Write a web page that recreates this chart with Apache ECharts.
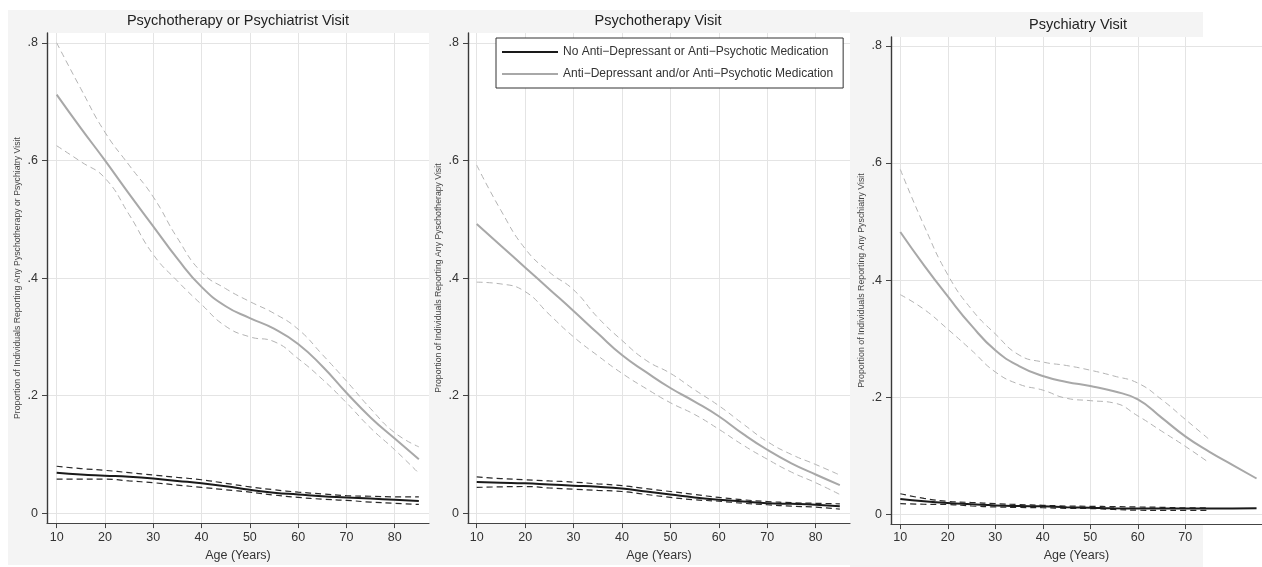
<!DOCTYPE html>
<html>
<head>
<meta charset="utf-8">
<style>html,body{margin:0;padding:0;background:#fff;}#chart{width:1262px;height:567px;}</style>
<script src="https://cdn.jsdelivr.net/npm/echarts@6/dist/echarts.min.js"></script>
</head>
<body>
<div id="chart"></div>
<script>
// ---------------- data ----------------
const ages = [10, 15, 20, 25, 30, 35, 40, 45, 50, 55, 60, 65, 70, 75, 80, 85];
const xTicksFull = [10, 20, 30, 40, 50, 60, 70, 80];
const xTicksShort = [10, 20, 30, 40, 50, 60, 70];
const yTicks = [0, 0.2, 0.4, 0.6, 0.8];

const panelTitles = ['Psychotherapy or Psychiatrist Visit', 'Psychotherapy Visit', 'Psychiatry Visit'];
const yTitles = [
  'Proportion of Individuals Reporting Any Pyschotherapy or Psychiatry Visit',
  'Proportion of Individuals Reporting Any Pyschotherapy Visit',
  'Proportion of Individuals Reporting Any Pyschiatry Visit'
];
const xTitle = 'Age (Years)';
const legendNames = ['No Anti\u2212Depressant or Anti\u2212Psychotic Medication',
                     'Anti\u2212Depressant and/or Anti\u2212Psychotic Medication'];

// Panel 1: psychotherapy or psychiatrist visit
const p1MedMean  = [.712,.655,.600,.543,.488,.433,.385,.352,.332,.314,.288,.250,.205,.163,.127,.092];
const p1MedHi    = [.800,.722,.648,.592,.538,.468,.410,.382,.360,.340,.313,.270,.225,.178,.137,.113];
const p1MedLo    = [.625,.598,.570,.508,.440,.395,.355,.318,.300,.292,.263,.228,.188,.145,.108,.068];
const p1NoMean   = [.069,.066,.064,.062,.059,.055,.051,.046,.040,.035,.032,.029,.027,.025,.023,.021];
const p1NoHi     = [.080,.076,.073,.069,.065,.061,.057,.051,.045,.040,.036,.033,.030,.029,.028,.028];
const p1NoLo     = [.058,.058,.058,.055,.052,.048,.044,.040,.036,.031,.027,.024,.022,.019,.017,.015];

// Panel 2: psychotherapy visit
const p2MedMean  = [.492,.455,.418,.381,.344,.306,.269,.240,.213,.190,.165,.135,.108,.085,.066,.048];
const p2MedHi    = [.592,.515,.450,.410,.380,.333,.294,.260,.238,.210,.183,.152,.122,.100,.083,.065];
const p2MedLo    = [.393,.390,.377,.338,.300,.268,.238,.212,.188,.168,.143,.116,.092,.070,.052,.032];
const p2NoMean   = [.053,.052,.051,.049,.047,.045,.042,.037,.032,.027,.023,.020,.017,.016,.0145,.012];
const p2NoHi     = [.062,.059,.057,.055,.053,.050,.047,.042,.037,.032,.027,.023,.020,.018,.017,.016];
const p2NoLo     = [.044,.045,.0455,.043,.041,.039,.037,.032,.027,.023,.0205,.017,.0145,.012,.0105,.007];

// Panel 3: psychiatry visit (confidence bands stop at 75)
const p3MedMean  = [.482,.425,.372,.322,.280,.253,.236,.226,.219,.210,.196,.165,.133,.107,.084,.061];
const p3MedHi    = [.589,.493,.409,.350,.308,.272,.260,.254,.246,.236,.224,.196,.162,.128,null,null];
const p3MedLo    = [.375,.350,.316,.280,.243,.222,.212,.198,.194,.190,.168,.142,.116,.088,null,null];
const p3NoMean   = [.026,.022,.019,.017,.015,.014,.0135,.012,.011,.010,.0098,.0096,.0096,.0097,.0098,.0100];
const p3NoHi     = [.035,.027,.022,.020,.018,.0165,.0152,.014,.0135,.013,.0124,.0118,.011,.011,null,null];
const p3NoLo     = [.018,.017,.0165,.014,.0124,.0115,.011,.010,.0096,.008,.0068,.0065,.0065,.0065,null,null];

// ---------------- styling / layout ----------------
const FONT = "'Liberation Sans', Arial, Helvetica, sans-serif";
const BLACK = '#1a1a1a', GREY = '#a8a8a8', GREY_CI = '#b4b4b4', BG = '#f4f4f4';

function pairs(vals) {
  return ages.map((a, i) => [a, vals[i]]).filter(p => p[1] !== null && p[1] !== undefined);
}
function mkLine(name, idx, vals, color, width, dashed, z) {
  return {
    name: name, type: 'line', xAxisIndex: idx, yAxisIndex: idx,
    data: pairs(vals), showSymbol: false, symbol: 'none',
    smooth: 0.5, silent: true, z: z,
    lineStyle: { color: color, width: width, type: dashed ? [6, 4] : 'solid' },
    itemStyle: { color: color }
  };
}

const grids = [
  { left: 47,  top: 33, width: 382, height: 500 },
  { left: 468, top: 33, width: 382, height: 500 },
  { left: 891, top: 37, width: 371, height: 492 }
];
const xRanges = [[8.0, 87.1], [8.2, 87.1], [8.04, 86.15]];
const yRanges = [[-0.0167, 0.8167], [-0.0167, 0.8167], [-0.0169, 0.8152]];
const yNameFont = [8.7, 8.7, 8.8];
const xLabelMargin = [8, 8, 7];
const xNameGap = [21, 21, 20];

function yFmt(v) { return v === 0 ? '0' : String(+v.toFixed(1)).replace(/^0/, ''); }

const xAxes = grids.map((g, i) => ({
  type: 'value', gridIndex: i, min: xRanges[i][0], max: xRanges[i][1],
  name: xTitle, nameLocation: 'middle', nameGap: xNameGap[i],
  nameTextStyle: { fontFamily: FONT, fontSize: 12.5, color: '#333' },
  axisLine: { show: true, onZero: false, lineStyle: { color: '#444', width: 1.2 } },
  axisTick: { show: true, length: 5, customValues: i === 2 ? xTicksShort : xTicksFull, lineStyle: { color: '#444' } },
  axisLabel: { customValues: i === 2 ? xTicksShort : xTicksFull, margin: xLabelMargin[i], fontFamily: FONT, fontSize: 12.5, color: '#333' },
  splitLine: { show: true, lineStyle: { color: '#e4e4e4', width: 1 } }
}));
const yAxes = grids.map((g, i) => ({
  type: 'value', gridIndex: i, min: yRanges[i][0], max: yRanges[i][1],
  name: yTitles[i], nameLocation: 'middle', nameRotate: 90, nameGap: 25,
  nameTextStyle: { fontFamily: FONT, fontSize: yNameFont[i], color: '#444' },
  axisLine: { show: true, lineStyle: { color: '#3a3a3a', width: 1.4 } },
  axisTick: { show: true, length: 5, customValues: yTicks, lineStyle: { color: '#444' } },
  axisLabel: { customValues: yTicks, margin: 9, fontFamily: FONT, fontSize: 12.5, color: '#333', formatter: yFmt },
  splitLine: { show: true, lineStyle: { color: '#e4e4e4', width: 1 } }
}));

const series = [];
const panels = [
  [p1NoMean, p1NoHi, p1NoLo, p1MedMean, p1MedHi, p1MedLo],
  [p2NoMean, p2NoHi, p2NoLo, p2MedMean, p2MedHi, p2MedLo],
  [p3NoMean, p3NoHi, p3NoLo, p3MedMean, p3MedHi, p3MedLo]
];
panels.forEach((p, i) => {
  series.push(mkLine(legendNames[1] + ' (upper 95% CI)', i, p[4], GREY_CI, 1, true, 3));
  series.push(mkLine(legendNames[1] + ' (lower 95% CI)', i, p[5], GREY_CI, 1, true, 3));
  series.push(mkLine(legendNames[1], i, p[3], GREY, 2, false, 4));
  series.push(mkLine(legendNames[0] + ' (upper 95% CI)', i, p[1], '#2a2a2a', 1.2, true, 5));
  series.push(mkLine(legendNames[0] + ' (lower 95% CI)', i, p[2], '#2a2a2a', 1.2, true, 5));
  series.push(mkLine(legendNames[0], i, p[0], BLACK, 2, false, 6));
});

const titlePos = [[238, 21], [658, 21], [1078, 25]];
const graphic = [
  { type: 'rect', z: -10, silent: true, shape: { x: 8, y: 10, width: 421, height: 555 }, style: { fill: BG } },
  { type: 'rect', z: -10, silent: true, shape: { x: 429, y: 10, width: 421, height: 555 }, style: { fill: BG } },
  { type: 'rect', z: -10, silent: true, shape: { x: 850, y: 12, width: 353, height: 555 }, style: { fill: BG } }
].concat(panelTitles.map((t, i) => ({
  type: 'text', z: 10, silent: true, x: titlePos[i][0], y: titlePos[i][1],
  style: { text: t, align: 'center', verticalAlign: 'middle', font: '14.5px ' + FONT, fill: '#222' }
})));

const chart = echarts.init(document.getElementById('chart'), null, { renderer: 'canvas' });
chart.setOption({
  backgroundColor: '#ffffff',
  animation: false,
  grid: grids.map(g => Object.assign({ show: true, backgroundColor: '#ffffff', borderWidth: 0, containLabel: false }, g)),
  xAxis: xAxes,
  yAxis: yAxes,
  legend: {
    data: legendNames, orient: 'vertical', left: 496, top: 38,
    icon: 'rect', itemWidth: 56, itemHeight: 2, itemGap: 8,
    padding: [7, 10, 7, 6],
    borderColor: '#333', borderWidth: 1, backgroundColor: '#ffffff',
    selectedMode: false,
    textStyle: { fontFamily: FONT, fontSize: 12, color: '#333', lineHeight: 14 }
  },
  graphic: graphic,
  series: series
});
</script>
</body>
</html>
